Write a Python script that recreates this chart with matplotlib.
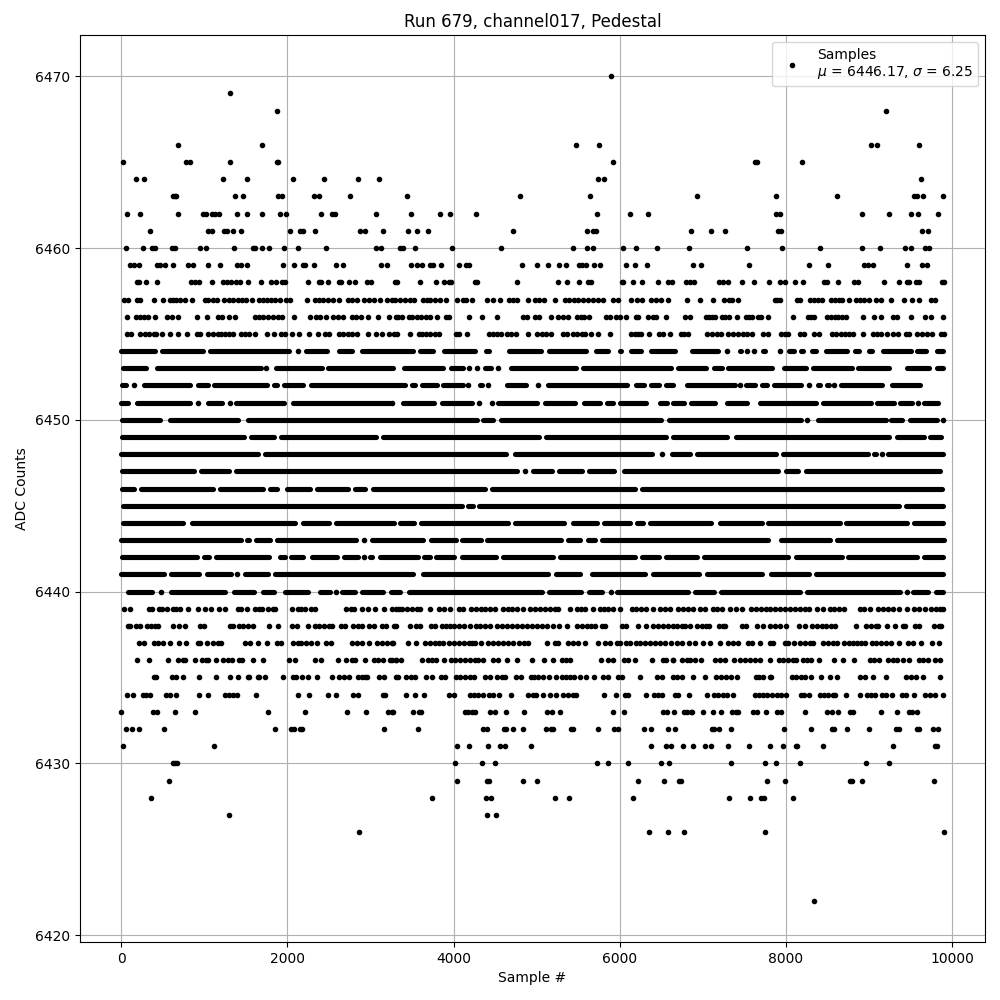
import matplotlib
matplotlib.use("Agg")
import matplotlib.pyplot as plt

##### Isolated samples, per ADC level (sample numbers) #####
samples_6470 = [5896]
samples_6469 = [1308]
samples_6468 = [1872, 9200]
samples_6466 = [684, 1692, 5476, 5752, 9020, 9092, 9596]
samples_6465 = [24, 780, 828, 1308, 1872, 1888, 5920, 7628, 7652, 8192]
samples_6464 = [180, 276, 1224, 1512, 2064, 2436, 2856, 3108, 5740, 5812, 9620]
samples_6463 = [624, 648, 664, 1368, 1464, 1884, 1932, 2316, 2376, 2748, 3436, 4804, 5644, 6932, 7880, 8612, 9536,
                9572, 9644, 9884]
samples_6462 = [72, 228, 684, 984, 1024, 1096, 1124, 1176, 1392, 1512, 1692, 1908, 1980, 2400, 2532, 2568, 3072,
                3484, 3832, 3952, 4276, 5728, 6124, 6340, 7880, 7928, 8912, 9236, 9500, 9584, 9824]
samples_6461 = [348, 1044, 1092, 1236, 1272, 1344, 1440, 2028, 2148, 2188, 2328, 2880, 2940, 3156, 3448, 3556, 3688,
                4720, 5608, 5680, 5720, 6860, 7092, 7268, 7904, 7940, 9632, 9704]
samples_6460 = [60, 264, 368, 412, 612, 648, 948, 1024, 1356, 1584, 1608, 1692, 1776, 1956, 2124, 2460, 3072, 3132,
                3360, 3392, 3532, 3976, 4576, 5440, 5608, 5680, 6040, 6196, 6448, 6836, 7532, 7952, 8408, 8912,
                9128, 9428, 9500, 9676, 9716]
samples_6459 = [108, 152, 216, 432, 464, 528, 624, 804, 864, 1044, 1188, 1392, 1448, 1512, 1944, 2076, 2184, 2212,
                2316, 2584, 2664, 3132, 3204, 3484, 3556, 3616, 3712, 3748, 3844, 4060, 4144, 4180, 4828, 5008,
                5140, 5272, 5356, 5512, 5548, 5596, 5692, 5764, 6072, 6184, 6328, 6884, 6980, 7556, 8276, 8504,
                8936, 8984, 9052, 9452, 9632, 9692]
samples_6458 = [192, 216, 300, 432, 840, 888, 936, 1092, 1224, 1272, 1324, 1380, 1428, 1524, 1680, 1800, 1860, 1932,
                1968, 2244, 2376, 2400, 2484, 2616, 2648, 2736, 2820, 2964, 3012, 3300, 3316, 3592, 3784, 3880,
                3940, 3968, 4264, 4288, 4768, 5260, 5368, 5512, 5620, 5648, 6028, 6040, 6160, 6268, 6460, 6580,
                6632, 6796, 6844, 6896, 7196, 7244, 7304, 7472, 7616, 7796, 7928, 7988, 8108, 8204, 8456, 8492,
                8624, 8816, 8864, 9176, 9356, 9452, 9476, 9560, 9596, 9872, 9896]
samples_6457 = [40, 84, 192, 228, 396, 504, 588, 624, 664, 712, 768, 852, 1008, 1044, 1104, 1152, 1236, 1296, 1344,
                1404, 1452, 1504, 1572, 1656, 1704, 1752, 1800, 1848, 1908, 1980, 2028, 2232, 2328, 2376, 2424,
                2484, 2544, 2624, 2724, 2784, 2844, 2928, 2984, 3044, 3112, 3204, 3260, 3300, 3360, 3420, 3480,
                3520, 3632, 3680, 3720, 3780, 3840, 3912, 4036, 4112, 4152, 4220, 4408, 4480, 4560, 4672, 4720,
                4768, 4900, 4984, 5032, 5092, 5224, 5340, 5392, 5448, 5500, 5560, 5620, 5680, 5740, 5800, 5920,
                5980, 6136, 6208, 6268, 6376, 6440, 6500, 6580, 6812, 6968, 7124, 7256, 7316, 7352, 7424, 7868,
                7892, 7928, 8132, 8168, 8288, 8336, 8384, 8428, 8540, 8588, 8636, 8672, 8756, 8840, 8888, 8936,
                8996, 9080, 9140, 9260, 9416, 9512, 9596, 9740, 9788]
samples_6456 = [72, 184, 224, 276, 328, 408, 552, 612, 684, 912, 1036, 1164, 1212, 1296, 1368, 1608, 1656, 1704,
                1764, 1824, 1884, 1936, 2076, 2268, 2344, 2392, 2464, 2544, 2604, 2664, 2772, 2824, 2892, 2976,
                3096, 3228, 3312, 3328, 3380, 3460, 3500, 3560, 3608, 3672, 3712, 3796, 3912, 3940, 4180, 4348,
                4528, 4840, 4888, 4984, 5032, 5176, 5260, 5312, 5380, 5480, 5528, 5572, 5632, 5836, 5888, 5960,
                6000, 6076, 6196, 6220, 6340, 6400, 6440, 6556, 6788, 6848, 7040, 7076, 7112, 7144, 7232, 7268,
                7316, 7412, 7520, 7556, 7592, 7664, 7704, 7784, 8084, 8264, 8300, 8336, 8492, 8540, 8588, 8624,
                8672, 8720, 8924, 9056, 9140, 9284, 9332, 9500, 9668, 9740, 9884]
samples_6455 = [72, 124, 228, 288, 336, 396, 424, 492, 588, 684, 788, 912, 952, 1044, 1104, 1164, 1204, 1252, 1300,
                1346, 1444, 1496, 1544, 1608, 1752, 1836, 1920, 1968, 2052, 2136, 2264, 2364, 2448, 2504, 2616,
                2664, 2724, 2784, 2844, 2976, 3064, 3144, 3224, 3284, 3320, 3472, 3580, 3620, 3672, 3720, 3780,
                3820, 4024, 4060, 4156, 4432, 4480, 4528, 4568, 4640, 4688, 4752, 4896, 5008, 5068, 5108, 5176,
                5320, 5368, 5440, 5480, 5540, 5580, 5656, 5740, 5884, 6136, 6180, 6220, 6260, 6352, 6472, 6520,
                6604, 6736, 6772, 6824, 7052, 7112, 7172, 7224, 7304, 7364, 7424, 7484, 7532, 7592, 7724, 7784,
                7940, 7988, 8024, 8168, 8216, 8336, 8396, 8552, 8604, 8660, 8708, 8756, 8804, 8924, 9044, 9092,
                9140, 9212, 9284, 9344, 9440, 9476, 9572, 9632, 9692, 9752, 9860, 9896]
samples_6439 = [36, 104, 336, 376, 456, 496, 552, 624, 664, 704, 804, 924, 1004, 1084, 1176, 1244, 1404, 1444, 1512,
                1608, 1656, 1692, 1764, 1824, 1856, 2052, 2124, 2164, 2216, 2284, 2336, 2704, 2764, 2804, 2904,
                2976, 3052, 3164, 3264, 3312, 3340, 3380, 3440, 3500, 3560, 3600, 3712, 3820, 3880, 3952, 4060,
                4112, 4212, 4272, 4328, 4380, 4440, 4500, 4600, 4660, 4700, 4760, 4832, 4920, 4980, 5040, 5100,
                5160, 5220, 5252, 5404, 5480, 5528, 5580, 5680, 5760, 5808, 5860, 5920, 6000, 6148, 6200, 6260,
                6320, 6400, 6488, 6540, 6608, 6700, 6764, 6824, 6884, 6964, 7024, 7124, 7172, 7232, 7328, 7404,
                7472, 7584, 7644, 7704, 7764, 7804, 7864, 7924, 7984, 8044, 8104, 8164, 8224, 8276, 8372, 8444,
                8532, 8584, 8644, 8704, 8888, 8944, 9012, 9104, 9164, 9224, 9284, 9364, 9452, 9544, 9604, 9676,
                9744, 9804, 9848, 9884]
samples_6438 = [84, 112, 176, 224, 312, 364, 404, 444, 624, 696, 768, 952, 992, 1308, 1344, 1416, 1464, 1524, 1584,
                1776, 1884, 2052, 2112, 2244, 2328, 2384, 2444, 2504, 2536, 2640, 2688, 2796, 2852, 2904, 2984,
                3048, 3144, 3184, 3288, 3304, 3472, 3552, 3592, 3728, 3780, 3860, 3912, 3960, 4008, 4060, 4120,
                4192, 4272, 4320, 4380, 4440, 4520, 4580, 4640, 4700, 4760, 4820, 4880, 4940, 5000, 5060, 5120,
                5192, 5272, 5368, 5488, 5540, 5600, 5652, 5700, 5788, 5828, 6028, 6072, 6220, 6320, 6400, 6460,
                6520, 6580, 6644, 6692, 6744, 6784, 6844, 6932, 6984, 7036, 7076, 7196, 7244, 7272, 7476, 7524,
                7652, 7724, 7804, 7864, 7928, 8000, 8156, 8228, 8312, 8372, 8432, 8480, 8540, 8596, 8848, 8960,
                9024, 9084, 9112, 9212, 9308, 9404, 9436, 9556, 9604, 9776, 9836, 9864]
samples_6437 = [216, 272, 396, 444, 504, 584, 696, 784, 924, 952, 1032, 1104, 1164, 1204, 1488, 1548, 1652, 1752,
                1872, 1924, 2064, 2124, 2164, 2224, 2284, 2352, 2460, 2520, 2772, 2844, 2904, 2984, 3084, 3144,
                3204, 3256, 3268, 3448, 3544, 3660, 3712, 3780, 3828, 3872, 3940, 4000, 4060, 4120, 4180, 4220,
                4264, 4336, 4420, 4480, 4540, 4600, 4660, 4720, 4792, 4852, 4900, 5128, 5220, 5260, 5380, 5440,
                5500, 5580, 5740, 5828, 5888, 5968, 6008, 6072, 6128, 6200, 6240, 6304, 6360, 6420, 6480, 6540,
                6620, 6684, 6752, 6836, 6904, 7004, 7088, 7208, 7304, 7364, 7424, 7544, 7596, 7692, 7804, 7844,
                7988, 8024, 8092, 8164, 8224, 8284, 8324, 8444, 8504, 8564, 8616, 8704, 8764, 8804, 8852, 8904,
                8952, 9032, 9084, 9144, 9204, 9264, 9364, 9464, 9524, 9620, 9752, 9836]
samples_6436 = [192, 336, 564, 684, 744, 768, 888, 976, 1024, 1044, 1136, 1224, 1284, 1332, 1424, 1456, 1584, 1704,
                2016, 2088, 2328, 2400, 2604, 2700, 2784, 2816, 2936, 3044, 3096, 3156, 3240, 3304, 3260, 3312,
                3372, 3616, 3688, 3736, 3784, 3880, 3968, 4020, 4080, 4140, 4200, 4260, 4300, 4360, 4480, 4540,
                4648, 4768, 4948, 5084, 5200, 5304, 5352, 5400, 5776, 5860, 5920, 6048, 6100, 6180, 6388, 6520,
                6560, 6640, 6644, 6752, 6804, 6844, 6908, 6980, 7152, 7204, 7272, 7376, 7452, 7504, 7564, 7624,
                7684, 7808, 7916, 7964, 8024, 8084, 8124, 8204, 8252, 8304, 8392, 8576, 8684, 8816, 9008, 9064,
                9124, 9224, 9284, 9332, 9404, 9476, 9596, 9644, 9704, 9788, 9848]
samples_6435 = [396, 424, 612, 656, 744, 936, 1140, 1308, 1404, 1524, 1544, 1644, 1660, 1728, 1944, 2064, 2104, 2172,
                2244, 2352, 2532, 2616, 2676, 2736, 2856, 2896, 2936, 2964, 3108, 3160, 3312, 3328, 3432, 3488,
                3540, 3664, 3736, 3848, 3900, 4024, 4080, 4140, 4200, 4252, 4384, 4440, 4528, 4580, 4620, 4756,
                4808, 4928, 4968, 5020, 5080, 5152, 5236, 5300, 5352, 5404, 5452, 5520, 5596, 5692, 5800, 5860,
                5984, 6032, 6244, 6448, 6508, 6640, 6684, 6744, 6884, 7028, 7164, 7224, 7284, 7344, 7416, 7644,
                7676, 7724, 7804, 7824, 8072, 8116, 8176, 8224, 8304, 8416, 8528, 8612, 8888, 8956, 9044, 9208,
                9440, 9504, 9564, 9644, 9848]
samples_6434 = [72, 144, 264, 304, 344, 544, 592, 660, 936, 1044, 1248, 1296, 1352, 1400, 1620, 2124, 2256, 2484,
                2580, 2796, 2848, 3156, 3180, 3424, 3532, 3640, 3940, 4000, 4192, 4248, 4300, 4352, 4432, 4480,
                4552, 4696, 4900, 4960, 4988, 5076, 5164, 5232, 5320, 5380, 5432, 5468, 5812, 5956, 6064, 6100,
                6320, 6412, 6460, 6508, 6664, 6704, 6836, 7052, 7136, 7184, 7244, 7292, 7364, 7628, 7676, 7724,
                7772, 7832, 7892, 7944, 8004, 8180, 8212, 8276, 8404, 8452, 8504, 8564, 8596, 8720, 8888, 8972,
                9024, 9072, 9152, 9204, 9272, 9392, 9444, 9536, 9668, 9728, 9788, 9884]
samples_6433 = [0, 384, 436, 648, 888, 1764, 2208, 2712, 2952, 3216, 3264, 3268, 3508, 3580, 3608, 4132, 4168, 4216,
                4264, 4444, 4496, 4636, 4852, 5128, 5180, 5284, 5920, 6052, 6520, 6568, 6656, 6776, 6804, 6852,
                6872, 7004, 7124, 7220, 7352, 7404, 7424, 7604, 7652, 7760, 7892, 7940, 8228, 8492, 8552, 8624,
                8768, 8804, 9140, 9332, 9476, 9512, 9572]
samples_6432 = [60, 132, 216, 516, 1848, 2040, 2076, 2148, 2172, 3168, 3568, 4360, 4400, 4612, 4636, 4720, 4840,
                5116, 5176, 5200, 5416, 5440, 5740, 5932, 5984, 6292, 6376, 6580, 6668, 7112, 7132, 7196, 7340,
                7976, 8300, 8552, 8576, 8732, 8996, 9320, 9356, 9572, 9604, 9764, 9824]
samples_6431 = [24, 1116, 4036, 4180, 4420, 4564, 4624, 4936, 6376, 6556, 6616, 6764, 6884, 7028, 7100, 7304, 7556,
                7808, 7964, 8120, 8132, 8444, 9284, 9788, 9812]
samples_6430 = [624, 652, 672, 4012, 4348, 4504, 5728, 5860, 6100, 6496, 6592, 7340, 7748, 7880, 8168, 8960, 9236]
samples_6429 = [576, 4036, 4408, 4432, 4840, 5008, 6220, 6532, 6712, 6740, 7772, 7988, 8768, 8792, 8912, 9776]
samples_6428 = [360, 3736, 4396, 4456, 5224, 5392, 6160, 7316, 7568, 7700, 7736, 8084]
samples_6427 = [1296, 4408, 4516]
samples_6426 = [2868, 6352, 6580, 6776, 7748, 9896]
samples_6422 = [8340]

##### Dense levels: runs where the dots merge into one bar, as (first, last) sample #####
# a run with first == last is a single dot
runs_6454 = [(4, 404), (496, 984), (1064, 2016), (2132, 2132), (2224, 2480), (2624, 2772), (2896, 3508), (3600, 3748),
             (3884, 4256), (4388, 4432), (4664, 5048), (5144, 5588), (5720, 5860), (6000, 6020), (6132, 6256),
             (6380, 6668), (6868, 7184), (7292, 7292), (7444, 7460), (7536, 7536), (7616, 7616), (7720, 7752),
             (7932, 7932), (8036, 8092), (8176, 8204), (8308, 8360), (8484, 8732), (8828, 8876), (9000, 9032),
             (9168, 9500), (9576, 9684), (9816, 9892)]
runs_6453 = [(28, 300), (428, 1680), (1748, 1748), (1864, 2412), (2488, 3272), (3404, 3876), (3968, 4112), (4180, 4180),
             (4288, 4288), (4376, 4456), (4540, 4540), (4688, 5468), (5552, 6620), (6696, 7032), (7140, 7232),
             (7308, 7836), (7980, 8240), (8328, 8792), (8868, 9244), (9456, 9720), (9816, 9884)]
runs_6452 = [(16, 60), (156, 156), (280, 832), (924, 1040), (1120, 1760), (1840, 1880), (1960, 2192), (2284, 3416),
             (3504, 3536), (3620, 3796), (3872, 4112), (4172, 4172), (4316, 4348), (4412, 4412), (4640, 4876),
             (5020, 5020), (5136, 6088), (6192, 6288), (6380, 6476), (6552, 6640), (6812, 7392), (7452, 7452),
             (7524, 7632), (7716, 7772), (7856, 8180), (8276, 8276), (8388, 8404), (8488, 8512), (8584, 8584),
             (8664, 9152), (9276, 9612)]
runs_6451 = [(0, 80), (196, 832), (924, 924), (1048, 1216), (1308, 1308), (1384, 1960), (2064, 3240), (3260, 3260),
             (3392, 3768), (3864, 4228), (4308, 4308), (4468, 4468), (4540, 5008), (5104, 5456), (5564, 5768),
             (5844, 5916), (6000, 6316), (6480, 6568), (6644, 6772), (6856, 7152), (7296, 7532), (7688, 8360),
             (8448, 9020), (9096, 9300), (9376, 9512), (9592, 9592), (9664, 9832)]
runs_6450 = [(16, 464), (584, 1412), (1528, 4280), (4352, 4472), (4576, 6496), (6592, 8180), (8252, 8252), (8388, 9204),
             (9268, 9400), (9496, 9812), (9884, 9884)]
runs_6449 = [(16, 1480), (1568, 1844), (1920, 3064), (3156, 5028), (5112, 6552), (6640, 7292), (7396, 9244), (9332, 9660),
             (9736, 9860)]
runs_6448 = [(4, 1652), (1736, 4628), (4744, 6388), (6508, 6508), (6624, 6844), (6924, 7884), (7968, 8984), (9060, 9084),
             (9156, 9156), (9228, 9892)]
runs_6447 = [(16, 872), (956, 1292), (1384, 4768), (4856, 4856), (4952, 5188), (5272, 5548), (5632, 5936), (6052, 7904),
             (8004, 8144), (8244, 9852)]
runs_6446 = [(16, 152), (236, 1104), (1184, 1704), (1792, 1880), (1996, 2272), (2356, 2732), (2816, 2932), (3028, 4380),
             (4464, 6180), (6264, 9876)]
runs_6445 = [(28, 4096), (4176, 4232), (4312, 9364), (9448, 9892)]
runs_6444 = [(28, 744), (848, 2092), (2188, 2504), (2588, 3280), (3360, 3520), (3612, 4656), (4736, 5328), (5432, 5728),
             (5812, 6128), (6204, 6280), (6364, 7100), (7204, 7712), (7788, 8652), (8728, 9460), (9544, 9884)]
runs_6443 = [(4, 1440), (1516, 1544), (1624, 1792), (1876, 2832), (2920, 2920), (3016, 3628), (3732, 4028), (4104, 4328),
             (4404, 5288), (5372, 5516), (5612, 5700), (5792, 7784), (7944, 8532), (8616, 9900)]
runs_6442 = [(16, 912), (1000, 1056), (1144, 1776), (1912, 1976), (2048, 2192), (2296, 2600), (2684, 2852), (2920, 2920),
             (2996, 3024), (3116, 3568), (3648, 3712), (3792, 4000), (4100, 4516), (4600, 5196), (5280, 6188),
             (6272, 6468), (6552, 6924), (7008, 8020), (8116, 8672), (8748, 9572), (9664, 9884)]
runs_6441 = [(4, 512), (596, 932), (1036, 1324), (1400, 1400), (1496, 1772), (1856, 3508), (3632, 5140), (5232, 5520),
             (5660, 6308), (6404, 6952), (7044, 7712), (7824, 8272), (8364, 9884)]
runs_6440 = [(84, 372), (484, 484), (604, 1252), (1356, 1600), (1708, 1840), (1968, 2244), (2388, 2512), (2584, 2584),
             (2656, 2812), (2904, 3152), (3248, 3360), (3464, 5068), (5152, 5536), (5632, 5788), (5892, 5892),
             (5972, 6820), (6904, 7132), (7216, 8164), (8248, 9372), (9452, 9452), (9524, 9712), (9808, 9884)]

sparse_levels = {
    6470: samples_6470, 6469: samples_6469, 6468: samples_6468, 6466: samples_6466, 6465: samples_6465,
    6464: samples_6464, 6463: samples_6463, 6462: samples_6462, 6461: samples_6461, 6460: samples_6460,
    6459: samples_6459, 6458: samples_6458, 6457: samples_6457, 6456: samples_6456, 6455: samples_6455,
    6439: samples_6439, 6438: samples_6438, 6437: samples_6437, 6436: samples_6436, 6435: samples_6435,
    6434: samples_6434, 6433: samples_6433, 6432: samples_6432, 6431: samples_6431, 6430: samples_6430,
    6429: samples_6429, 6428: samples_6428, 6427: samples_6427, 6426: samples_6426, 6422: samples_6422,
}
dense_levels = {
    6454: runs_6454, 6453: runs_6453, 6452: runs_6452, 6451: runs_6451, 6450: runs_6450,
    6449: runs_6449, 6448: runs_6448, 6447: runs_6447, 6446: runs_6446, 6445: runs_6445,
    6444: runs_6444, 6443: runs_6443, 6442: runs_6442, 6441: runs_6441, 6440: runs_6440,
}

mean_adc = 6446.17
sigma_adc = 6.25

##### Sort into dots and bars #####
dot_x = []
dot_y = []
for level, samples in sparse_levels.items():
    dot_x += samples
    dot_y += [level] * len(samples)

bar_y = []
bar_start = []
bar_end = []
for level, runs in dense_levels.items():
    for first, last in runs:
        if first == last:
            dot_x.append(first)
            dot_y.append(level)
        else:
            bar_y.append(level)
            bar_start.append(first)
            bar_end.append(last)

##### Plot #####
fig, ax = plt.subplots(figsize=(10, 10), dpi=100)
ax.plot(dot_x, dot_y, "k.", label=f"Samples\n$\\mu$ = {mean_adc:.2f}, $\\sigma$ = {sigma_adc:.2f}")
# same width as the '.' marker, so a run looks like overlapping dots
ax.hlines(bar_y, bar_start, bar_end, colors="k", linewidths=3.7, capstyle="round", zorder=2)

ax.set_title("Run 679, channel017, Pedestal")
ax.set_xlabel("Sample #")
ax.set_ylabel("ADC Counts")
ax.grid(True)
ax.legend(loc="upper right")

fig.subplots_adjust(left=0.08, right=0.985, top=0.965, bottom=0.058)
fig.savefig("out.png")
